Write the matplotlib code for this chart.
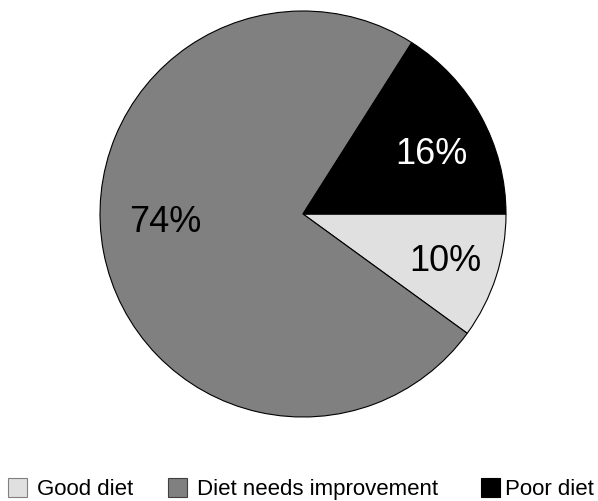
import matplotlib
matplotlib.use("Agg")
import matplotlib.pyplot as plt
from matplotlib.patches import Rectangle

categories = ["Good diet", "Diet needs improvement", "Poor diet"]
values = [10, 74, 16]
colors = ["#e0e0e0", "#808080", "#000000"]
label_colors = ["black", "black", "white"]
label_pos = [(0.700, -0.236), (-0.680, -0.044), (0.631, 0.291)]

plt.rcParams['font.family'] = ['Liberation Sans', 'DejaVu Sans']

W, H = 598, 501
fig = plt.figure(figsize=(W / 100, H / 100), dpi=100)
cx, cy, r = 303, 214, 203
ax = fig.add_axes([(cx - r) / W, (H - cy - r) / H, 2 * r / W, 2 * r / H])
wedges, _ = ax.pie(values, colors=colors, startangle=0, counterclock=False,
                   wedgeprops=dict(edgecolor="black", linewidth=0.8))
ax.set_xlim(-1, 1)
ax.set_ylim(-1, 1)
ax.set_aspect("equal")
ax.axis("off")

for v, (x, y), c in zip(values, label_pos, label_colors):
    ax.text(x, y, f"{v}%", ha="center", va="center", fontsize=26, color=c)

# legend
patch_x = [8, 168, 481]
text_x = [37, 197, 505]
edge_cols = ["#808080", "#404040", "#000000"]
sq = 19
top = 478
base = 495
for px, tx, cat, col, ec in zip(patch_x, text_x, categories, colors, edge_cols):
    fig.patches.append(Rectangle((px / W, (H - top - sq) / H), sq / W, sq / H,
                                 transform=fig.transFigure, facecolor=col,
                                 edgecolor=ec, linewidth=0.8))
    fig.text(tx / W, (H - base) / H, cat, ha="left", va="baseline",
             fontsize=16, color="black")

fig.savefig("out.png", dpi=100)
